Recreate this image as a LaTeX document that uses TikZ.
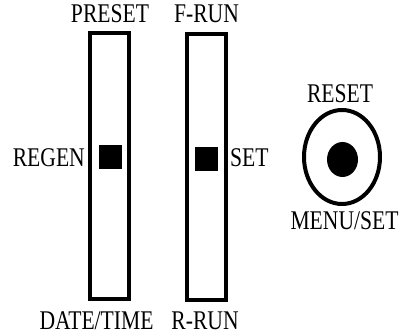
\documentclass[tikz,border=0pt]{standalone}
\usepackage{fontspec}
\newfontfamily\panelfont[FakeStretch=0.8]{Liberation Serif}
\usetikzlibrary{shapes.geometric}

\tikzset{
    slot/.style={draw, line width=4pt, minimum width=39pt, minimum height=266pt, inner sep=0pt},
    knob/.style={fill, minimum width=23pt, minimum height=24pt, inner sep=0pt},
    lbl/.style={font=\panelfont\fontsize{27}{30}\selectfont, inner sep=0pt},
}

\begin{document}
\begin{tikzpicture}[x=1pt,y=-1pt]
\useasboundingbox (0,0) rectangle (401,336);
\node[slot] (slotL) at (109.5,166) {};
\node[slot] (slotR) at (206,167) {};
\node[knob] (knobL) at (110,157.5) {};
\node[knob] (knobR) at (206,159.5) {};
\node[ellipse, draw, line width=4pt, minimum width=76pt, minimum height=94pt, inner sep=0pt] (btn) at (342,157) {};
\node[ellipse, fill, minimum width=31pt, minimum height=35pt, inner sep=0pt] (dot) at (342.5,159.5) {};
\node[lbl, anchor=base] (preset) at (110,23) {PRESET};
\node[lbl, anchor=base] (frun) at (206.5,23) {F-RUN};
\node[lbl, anchor=base east] (regen) at (85,167) {REGEN};
\node[lbl, anchor=base west] (set) at (230,167) {SET};
\node[lbl, anchor=base] (datetime) at (96.5,329) {DATE/TIME};
\node[lbl, anchor=base] (rrun) at (205,329) {R-RUN};
\node[lbl, anchor=base] (reset) at (340,103) {RESET};
\node[lbl, anchor=base] (menuset) at (344.5,230) {MENU/SET};
\end{tikzpicture}
\end{document}
